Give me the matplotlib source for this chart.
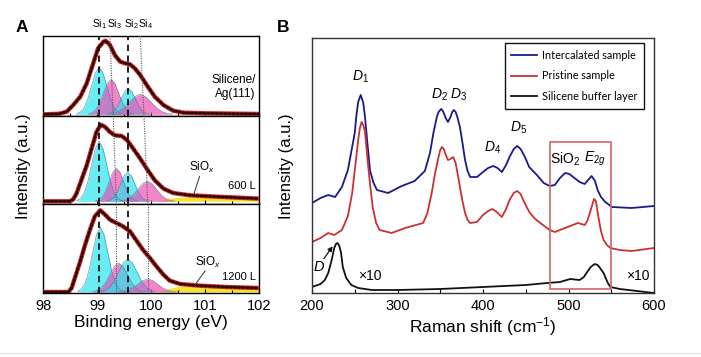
import matplotlib
matplotlib.use("Agg")
import matplotlib.pyplot as plt
from matplotlib.patches import Rectangle
from matplotlib.lines import Line2D

plt.rcParams['font.family'] = ['Liberation Sans', 'DejaVu Sans']
plt.rcParams['mathtext.fontset'] = 'custom'
plt.rcParams['mathtext.rm'] = 'Liberation Sans'
plt.rcParams['mathtext.it'] = 'Liberation Sans:italic'
plt.rcParams['mathtext.bf'] = 'Liberation Sans:bold'

# ---------------- Panel A data (binding energy eV, intensity) ----------------
top_env_x = [98.0, 98.3, 98.44, 98.56, 98.69, 98.81, 98.93, 99.02, 99.12, 99.16, 99.24, 99.33, 99.43,
             99.52, 99.61, 99.70, 99.80, 99.92, 100.07, 100.23, 100.41, 100.60, 101.03, 102.0]
top_env_y = [0, 0.5, 2.6, 9.3, 17.6, 31, 51, 66, 72.6, 73.6, 69.3, 59.3, 52.6,
             51, 50, 46, 39.3, 29.3, 17.6, 9.3, 3.6, 1.6, 1.0, 0.3]
mid_env_x = [98.0, 98.5, 98.56, 98.62, 98.72, 98.81, 98.90, 98.99, 99.07, 99.15, 99.24, 99.33, 99.46,
             99.56, 99.67, 99.80, 99.92, 100.07, 100.23, 100.41, 100.72, 101.34, 102.0]
mid_env_y = [0, 0, 2, 7.7, 22.7, 36, 52.7, 69.3, 76.7, 74.3, 69.3, 66, 65.3,
             61, 52.7, 42.7, 32.7, 21, 12.7, 8.3, 6, 4.3, 2.7]
bot_env_x = [98.0, 98.47, 98.53, 98.59, 98.69, 98.78, 98.87, 98.96, 99.06, 99.15, 99.24, 99.36, 99.48,
             99.61, 99.72, 99.85, 99.98, 100.10, 100.23, 100.35, 100.54, 100.91, 101.40, 102.0]
bot_env_y = [0, 0, 4, 14, 30.7, 47.3, 62.3, 75.7, 81.7, 77.3, 72.3, 69, 65.7,
             60.7, 52.3, 42.3, 34, 25.7, 17.3, 11.3, 8, 6.3, 5, 4]

# fitted components: top panel
top_si1_x = [98.62, 98.69, 98.76, 98.83, 98.90, 98.97, 99.04, 99.11, 99.18, 99.25, 99.32, 99.39, 99.46]
top_si1_y = [0.5, 2.1, 6.3, 15.3, 28.5, 41.5, 47, 41.5, 28.5, 15.3, 6.3, 2.1, 0.5]
top_si3_x = [98.84, 98.91, 98.98, 99.05, 99.12, 99.19, 99.26, 99.33, 99.40, 99.47, 99.54, 99.61, 99.68]
top_si3_y = [0.4, 1.5, 4.7, 11.4, 21.2, 30.9, 35, 30.9, 21.2, 11.4, 4.7, 1.5, 0.4]
top_si2_x = [99.19, 99.255, 99.32, 99.385, 99.45, 99.515, 99.58, 99.645, 99.71, 99.775, 99.84, 99.905, 99.97]
top_si2_y = [0.3, 1.1, 3.5, 8.5, 15.8, 22.9, 26, 22.9, 15.8, 8.5, 3.5, 1.1, 0.3]
top_si4_x = [99.2, 99.3, 99.4, 99.5, 99.6, 99.7, 99.8, 99.9, 100.0, 100.1, 100.2, 100.3, 100.4]
top_si4_y = [0.2, 0.9, 2.7, 6.5, 12.1, 17.6, 20, 17.6, 12.1, 6.5, 2.7, 0.9, 0.2]

# middle panel (600 L)
mid_si1_x = [98.62, 98.69, 98.76, 98.83, 98.90, 98.97, 99.04, 99.11, 99.18, 99.25, 99.32, 99.39, 99.46]
mid_si1_y = [0.7, 2.6, 8.1, 19.5, 36.4, 52.9, 60, 52.9, 36.4, 19.5, 8.1, 2.6, 0.7]
mid_si3_x = [98.97, 99.035, 99.10, 99.165, 99.23, 99.295, 99.36, 99.425, 99.49, 99.555, 99.62, 99.685, 99.75]
mid_si3_y = [0.4, 1.5, 4.5, 10.7, 20.0, 29.1, 33, 29.1, 20.0, 10.7, 4.5, 1.5, 0.4]
mid_si2_x = [99.18, 99.245, 99.31, 99.375, 99.44, 99.505, 99.57, 99.635, 99.70, 99.765, 99.83, 99.895, 99.96]
mid_si2_y = [0.3, 1.3, 3.9, 9.4, 17.6, 25.6, 29, 25.6, 17.6, 9.4, 3.9, 1.3, 0.3]
mid_si4_x = [99.42, 99.505, 99.59, 99.675, 99.76, 99.845, 99.93, 100.015, 100.10, 100.185, 100.27, 100.355, 100.44]
mid_si4_y = [0.2, 0.9, 2.7, 6.5, 12.1, 17.6, 20, 17.6, 12.1, 6.5, 2.7, 0.9, 0.2]
mid_siox_x = [100.1, 100.3, 100.5, 100.8, 101.1, 101.5, 102.0]
mid_siox_y = [0, 2.5, 4, 4.5, 4.2, 3.5, 2.5]

# bottom panel (1200 L)
bot_si1_x = [98.64, 98.71, 98.78, 98.85, 98.92, 98.99, 99.06, 99.13, 99.20, 99.27, 99.34, 99.41, 99.48]
bot_si1_y = [0.7, 2.9, 8.8, 21.1, 39.5, 57.3, 65, 57.3, 39.5, 21.1, 8.8, 2.9, 0.7]
bot_si3_x = [98.92, 99.00, 99.08, 99.16, 99.24, 99.32, 99.40, 99.48, 99.56, 99.64, 99.72, 99.80, 99.88]
bot_si3_y = [0.3, 1.3, 3.9, 9.4, 17.6, 25.6, 29, 25.6, 17.6, 9.4, 3.9, 1.3, 0.3]
bot_si2_x = [99.06, 99.145, 99.23, 99.315, 99.40, 99.485, 99.57, 99.655, 99.74, 99.825, 99.91, 99.995, 100.08]
bot_si2_y = [0.4, 1.5, 4.5, 10.7, 20.0, 29.1, 33, 29.1, 20.0, 10.7, 4.5, 1.5, 0.4]
bot_si4_x = [99.40, 99.49, 99.58, 99.67, 99.76, 99.85, 99.94, 100.03, 100.12, 100.21, 100.30, 100.39, 100.48]
bot_si4_y = [0.1, 0.6, 1.8, 4.2, 7.9, 11.5, 13, 11.5, 7.9, 4.2, 1.8, 0.6, 0.1]
bot_siox_x = [100.1, 100.3, 100.5, 100.8, 101.1, 101.5, 102.0]
bot_siox_y = [0, 3, 5.5, 6.5, 6, 5, 4]

# peak position guide lines (per panel boundary: top of A, top/mid, mid/bottom, bottom)
si1_line = 99.03
si2_line = 99.57
si3_line = [99.24, 99.30, 99.36, 99.36]
si4_line = [99.80, 99.87, 99.94, 99.94]
si_labels = ['Si$_1$', 'Si$_3$', 'Si$_2$', 'Si$_4$']
si_label_x = [99.05, 99.33, 99.63, 99.90]
a_ticks = [98, 99, 100, 101, 102]

# ---------------- Panel B data (Raman shift cm-1, intensity) ----------------
blue_x = [200, 210, 219, 227, 235, 242, 250, 252, 254, 257, 260, 262, 265, 268, 272, 276, 289, 305, 320, 332,
          338, 342, 346, 348, 351, 353, 355, 357, 359, 362, 364, 366, 368, 370, 373, 376, 379, 382, 385,
          393, 400, 406, 412, 417, 422, 427, 431, 436, 440, 444, 449, 454,
          463, 471, 478, 484, 490, 496, 501, 507, 513, 519, 523, 527, 531, 534, 538, 543, 551, 574, 600]
blue_y = [90, 95, 98, 96, 106, 123, 160, 178, 191, 198, 190, 176, 148, 122, 110, 103, 100, 107, 112, 122,
          140, 160, 176, 181, 184, 182, 178, 174, 171, 176, 181, 183, 181, 176, 166, 150, 133, 122, 116,
          116, 121, 125, 127, 125, 121, 128, 136, 144, 147, 144, 136, 126,
          118, 110, 107, 108, 115, 120, 119, 115, 111, 109, 113, 117, 112, 103, 96, 91, 86, 85, 87]
red_x = [200, 210, 219, 226, 235, 242, 247, 251, 254, 256, 258, 260, 262, 265, 268, 271, 275, 279, 293,
         309, 330, 335, 340, 344, 348, 350, 352, 354, 357, 359, 362, 365, 368, 371, 373, 376, 379, 382, 385,
         393, 400, 406, 411, 416, 422, 427, 431, 436, 440, 444, 447, 451, 455, 461, 467, 478, 484, 499,
         511, 519, 522, 525, 528, 530, 532, 535, 538, 541, 545, 549, 560, 574, 600]
red_y = [51, 55, 60, 58, 63, 77, 100, 130, 153, 165, 171, 168, 161, 133, 108, 86, 70, 63, 60,
         65, 70, 80, 100, 120, 136, 143, 146, 144, 137, 133, 134, 136, 130, 116, 106, 92, 80, 73, 70,
         71, 78, 82, 84, 81, 76, 84, 93, 100, 102, 99, 93, 86, 80, 74, 70, 63, 61, 66,
         70, 68, 72, 80, 89, 94, 92, 76, 62, 53, 48, 45, 43, 42, 45]
black_x = [200, 210, 215, 219, 223, 226, 228, 230, 232, 234, 236, 240, 246, 254, 270, 300, 350, 400, 450, 475,
           490, 502, 513, 518, 521, 526, 529, 531, 534, 536, 541, 546, 549, 560, 570, 600]
black_y = [6, 9, 13, 20, 33, 45, 49, 50, 47, 40, 26, 15, 8, 5, 3, 3, 4, 6, 8, 10,
           11, 14, 13, 16, 20, 26, 28, 29, 28, 26, 20, 10, 6, 4, 3, 0]
series_labels = ['Intercalated sample', 'Pristine sample', 'Silicene buffer layer']
box_x = [478, 550]
box_y = [4, 151]
b_ticks = [200, 300, 400, 500, 600]

# ---------------- Figure ----------------
W, H = 701, 357
fig = plt.figure(figsize=(W / 100, H / 100), dpi=100)


def fx(px):
    return px / W


def fy(py):
    return 1 - py / H


# Panel A: three stacked axes
bounds = [(36, 116), (116, 204), (204, 293)]
ylims = [(-1.7, 78.3), (-2.7, 85.3), (-1.0, 88.0)]
axesA = []
for (t, b), yl in zip(bounds, ylims):
    ax = fig.add_axes([fx(43), fy(b), fx(259) - fx(43), fy(t) - fy(b)])
    ax.set_xlim(98, 102)
    ax.set_ylim(*yl)
    ax.set_yticks([])
    ax.set_xticks(a_ticks)
    ax.set_xticks([98.5, 99.5, 100.5, 101.5], minor=True)
    ax.tick_params(axis='x', which='both', direction='in', length=3, width=0.8, labelsize=10.5, pad=4)
    ax.tick_params(axis='x', which='minor', length=2)
    for s in ax.spines.values():
        s.set_linewidth(1.0)
    axesA.append(ax)

CYAN = '#22e4f0'
PINK = '#ec4cb2'
panels = [
    (top_env_x, top_env_y, [(top_si1_x, top_si1_y, CYAN), (top_si3_x, top_si3_y, PINK),
                            (top_si2_x, top_si2_y, CYAN), (top_si4_x, top_si4_y, PINK)], None),
    (mid_env_x, mid_env_y, [(mid_si1_x, mid_si1_y, CYAN), (mid_si3_x, mid_si3_y, PINK),
                            (mid_si2_x, mid_si2_y, CYAN), (mid_si4_x, mid_si4_y, PINK)],
     (mid_siox_x, mid_siox_y)),
    (bot_env_x, bot_env_y, [(bot_si1_x, bot_si1_y, CYAN), (bot_si3_x, bot_si3_y, PINK),
                            (bot_si2_x, bot_si2_y, CYAN), (bot_si4_x, bot_si4_y, PINK)],
     (bot_siox_x, bot_siox_y)),
]
for ax, (ex, ey, comps, siox) in zip(axesA, panels):
    if siox is not None:
        ax.fill_between(siox[0], 0, siox[1], color='#f2e21a', alpha=0.9, lw=0, zorder=1)
    for cx, cy, col in comps:
        ax.fill_between(cx, 0, cy, color=col, alpha=0.68, lw=0, zorder=2)
        ax.plot(cx, cy, color='#4a7f98', lw=0.5, alpha=0.8, zorder=2.5)
    ax.plot(ex, ey, color='#d42a2a', lw=3.2, zorder=4, solid_capstyle='round')
    ax.plot(ex, ey, color='#2a0808', lw=2.0, ls=(0, (0.6, 0.9)), dash_capstyle='round', zorder=5)

for ax in axesA[:2]:
    ax.tick_params(axis='x', labelbottom=False)
axesA[2].set_xlabel('Binding energy (eV)', fontsize=12.5, labelpad=2)

# guide lines
for i, ax in enumerate(axesA):
    ax.axvline(si1_line, color='#111111', lw=1.3, ls=(0, (3.5, 2.5)), zorder=6)
    ax.axvline(si2_line, color='#111111', lw=1.3, ls=(0, (3.5, 2.5)), zorder=6)
    for pos in (si3_line, si4_line):
        ax.plot([pos[i], pos[i + 1]], [1, 0], transform=ax.get_xaxis_transform(),
                color='#555555', lw=0.8, ls=(0, (1, 1.2)), zorder=6)

for lab, x in zip(si_labels, si_label_x):
    axesA[0].text(x, 1.06, lab, transform=axesA[0].get_xaxis_transform(), ha='center', va='bottom',
                  fontsize=7.5)

axesA[0].text(0.985, 0.36, 'Silicene/\nAg(111)', transform=axesA[0].transAxes, ha='right', va='center',
              fontsize=8.5, linespacing=1.25)
axesA[1].text(100.95, 26, 'SiO$_x$', ha='center', va='bottom', fontsize=8.5)
axesA[1].plot([100.9, 100.78], [25, 5], color='#333333', lw=0.7)
axesA[1].text(0.985, 0.2, '600 L', transform=axesA[1].transAxes, ha='right', va='center', fontsize=8)
axesA[2].text(101.05, 22, 'SiO$_x$', ha='center', va='bottom', fontsize=8.5)
axesA[2].plot([101.0, 100.8], [21, 6], color='#333333', lw=0.7)
axesA[2].text(0.985, 0.18, '1200 L', transform=axesA[2].transAxes, ha='right', va='center', fontsize=8)

fig.text(fx(24), fy(166), 'Intensity (a.u.)', rotation=90, ha='center', va='center', fontsize=12)
fig.text(fx(22), fy(27), 'A', fontsize=12.5, fontweight='bold', ha='center', va='center')

# Panel B
axB = fig.add_axes([fx(312), fy(293), fx(654) - fx(312), fy(38) - fy(293)])
axB.set_xlim(200, 600)
axB.set_ylim(0, 255)
axB.set_yticks([])
axB.set_xticks(b_ticks)
axB.set_xticks([250, 350, 450, 550], minor=True)
axB.tick_params(axis='x', which='both', direction='in', length=3, width=0.8, labelsize=10.5, pad=4)
axB.tick_params(axis='x', which='minor', length=3)
for s in axB.spines.values():
    s.set_linewidth(1.0)
    s.set_color('#333333')

axB.plot(blue_x, blue_y, color='#1a1a8c', lw=1.3, label=series_labels[0])
axB.plot(red_x, red_y, color='#cc3030', lw=1.3, label=series_labels[1])
axB.plot(black_x, black_y, color='#111111', lw=1.3, label=series_labels[2])

axB.add_patch(Rectangle((box_x[0], box_y[0]), box_x[1] - box_x[0], box_y[1] - box_y[0],
                        fill=False, edgecolor='#d06565', lw=1.2, zorder=3))

leg = axB.legend(loc='upper right', bbox_to_anchor=(0.972, 0.98), prop={'family': 'Lato', 'size': 7.8},
                 frameon=True, fancybox=False, edgecolor='#111111', framealpha=1,
                 handlelength=2.4, handletextpad=0.5, borderpad=0.6, labelspacing=0.9, borderaxespad=0)
leg.get_frame().set_linewidth(1.0)

axB.text(257, 208, '$D_1$', ha='center', va='bottom', fontsize=10)
axB.text(349, 190, '$D_2$', ha='center', va='bottom', fontsize=10)
axB.text(371, 190, '$D_3$', ha='center', va='bottom', fontsize=10)
axB.text(411, 137, '$D_4$', ha='center', va='bottom', fontsize=10)
axB.text(441, 157, '$D_5$', ha='center', va='bottom', fontsize=10)
axB.text(496, 125, 'SiO$_2$', ha='center', va='bottom', fontsize=10)
axB.text(531, 125, '$E_{2g}$', ha='center', va='bottom', fontsize=10)
axB.text(208, 26, '$D$', ha='center', va='center', fontsize=10.5)
axB.annotate('', xy=(226, 49), xytext=(212, 32),
             arrowprops=dict(arrowstyle='-|>', color='#111111', lw=0.9, mutation_scale=7))
axB.text(268, 17, '×10', ha='center', va='center', fontsize=10)
axB.text(581, 17, '×10', ha='center', va='center', fontsize=10)
axB.set_xlabel('Raman shift (cm$^{\\mathrm{-1}}$)', fontsize=12.5, labelpad=2)

fig.text(fx(286), fy(166), 'Intensity (a.u.)', rotation=90, ha='center', va='center', fontsize=12)
fig.text(fx(283), fy(27), 'B', fontsize=12.5, fontweight='bold', ha='center', va='center')

fig.add_artist(Line2D([0, 1], [fy(353), fy(353)], transform=fig.transFigure, color='#e6e6e6', lw=1))

fig.savefig('out.png', dpi=100)
